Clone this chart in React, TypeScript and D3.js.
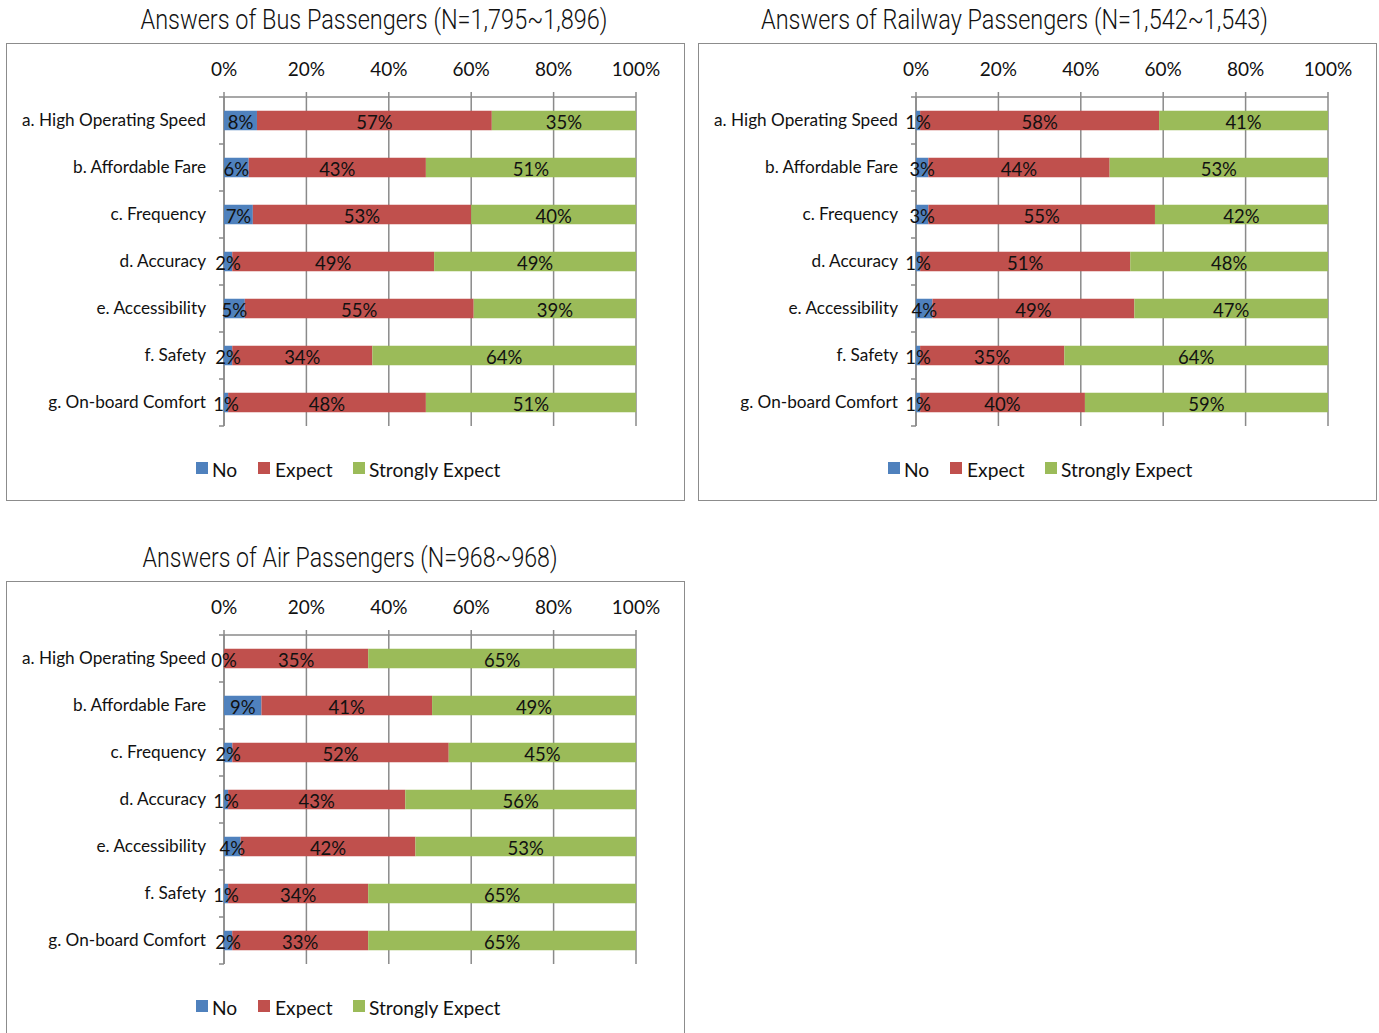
import React from "react";
import * as d3 from "d3";

const categories = [
  "a. High Operating Speed",
  "b. Affordable Fare",
  "c. Frequency",
  "d. Accuracy",
  "e. Accessibility",
  "f. Safety",
  "g. On-board Comfort",
];
const seriesNames = ["No", "Expect", "Strongly Expect"];
const seriesColors = ["#4F81BD", "#C0504D", "#9BBB59"];
const ticks = [0, 20, 40, 60, 80, 100];

const busNo = [8, 6, 7, 2, 5, 2, 1];
const busExpect = [57, 43, 53, 49, 55, 34, 48];
const busStrong = [35, 51, 40, 49, 39, 64, 51];

const railNo = [1, 3, 3, 1, 4, 1, 1];
const railExpect = [58, 44, 55, 51, 49, 35, 40];
const railStrong = [41, 53, 42, 48, 47, 64, 59];

const airNo = [0, 9, 2, 1, 4, 1, 2];
const airExpect = [35, 41, 52, 43, 42, 34, 33];
const airStrong = [65, 49, 45, 56, 53, 65, 65];

const LABEL_FONT = "Lato, 'Open Sans', sans-serif";
const TITLE_FONT = "Roboto, 'Liberation Sans', sans-serif";

type PanelProps = {
  title: string;
  titleCx: number;
  titleW: number;
  no: number[];
  expect: number[];
  strong: number[];
  fx: number;
  fy: number;
  fw: number;
  fh: number;
};

function Panel({ title, titleCx, titleW, no, expect, strong, fx, fy, fw, fh }: PanelProps) {
  const plotLeft = fx + 218;
  const plotRight = fx + 630;
  const axisY = fy + 54;
  const plotBottom = axisY + 329;
  const x = d3.scaleLinear().domain([0, 100]).range([plotLeft, plotRight]);
  const y = d3
    .scaleBand<string>()
    .domain(categories)
    .range([axisY, plotBottom])
    .paddingInner(0.585)
    .paddingOuter(0.2925);
  const rows = categories.map((c, i) => {
    const vals = [no[i], expect[i], strong[i]];
    const total = d3.sum(vals);
    const stack: { v: number; x0: number; x1: number; k: number }[] = [];
    let acc = 0;
    vals.forEach((v, k) => {
      const p = (v / total) * 100;
      stack.push({ v, x0: acc, x1: acc + p, k });
      acc += p;
    });
    return { c, stack };
  });
  const step = y.step();
  const boundaries = d3.range(categories.length + 1).map((i) => axisY + i * step);
  const legendY = fy + 425;
  const legendItems = [
    { sx: fx + 190, tx: fx + 206 },
    { sx: fx + 252, tx: fx + 269 },
    { sx: fx + 347, tx: fx + 363 },
  ];
  return (
    <g>
      <rect x={fx + 0.5} y={fy + 0.5} width={fw} height={fh} fill="#fff" stroke="#8c8c8c" strokeWidth={1} />
      <text
        x={titleCx}
        y={fy - 23}
        textAnchor="middle"
        dominantBaseline="central"
        fontFamily={TITLE_FONT}
        fontWeight={300}
        fontSize={27}
        textLength={titleW}
        lengthAdjust="spacingAndGlyphs"
        fill="#111"
      >
        {title}
      </text>
      {ticks.map((t) => (
        <line key={"g" + t} x1={x(t)} x2={x(t)} y1={axisY - 5} y2={plotBottom} stroke="#8a8a8a" strokeWidth={1.5} />
      ))}
      <line x1={plotLeft} x2={plotRight} y1={axisY} y2={axisY} stroke="#8a8a8a" strokeWidth={1.5} />
      {ticks.map((t) => (
        <text
          key={"t" + t}
          x={x(t)}
          y={fy + 25}
          textAnchor="middle"
          dominantBaseline="central"
          fontFamily={LABEL_FONT}
          fontSize={19}
          fill="#111"
        >
          {t + "%"}
        </text>
      ))}
      <line x1={plotLeft} x2={plotLeft} y1={axisY} y2={plotBottom} stroke="#8a8a8a" strokeWidth={1.5} />
      {boundaries.map((b, i) => (
        <line key={"b" + i} x1={plotLeft - 5} x2={plotLeft} y1={b} y2={b} stroke="#8a8a8a" strokeWidth={1.5} />
      ))}
      {rows.map((r) => {
        const yy = y(r.c)!;
        const bh = y.bandwidth();
        return (
          <g key={r.c}>
            <text
              x={plotLeft - 18}
              y={yy + bh / 2 - 1}
              textAnchor="end"
              dominantBaseline="central"
              fontFamily={LABEL_FONT}
              fontSize={17.2}
              fill="#111"
            >
              {r.c}
            </text>
            {r.stack.map((s) => (
              <rect
                key={s.k}
                x={x(s.x0)}
                y={yy}
                width={Math.max(0, x(s.x1) - x(s.x0))}
                height={bh}
                fill={seriesColors[s.k]}
              />
            ))}
            {r.stack.map((s) => (
              <text
                key={"l" + s.k}
                x={(x(s.x0) + x(s.x1)) / 2}
                y={yy + bh / 2 + 1}
                textAnchor="middle"
                dominantBaseline="central"
                fontFamily={LABEL_FONT}
                fontSize={18.5}
                fill="#111"
              >
                {s.v + "%"}
              </text>
            ))}
          </g>
        );
      })}
      {legendItems.map((it, k) => (
        <g key={"lg" + k}>
          <rect x={it.sx} y={legendY - 6} width={12} height={12} fill={seriesColors[k]} />
          <text
            x={it.tx}
            y={legendY + 1}
            dominantBaseline="central"
            fontFamily={LABEL_FONT}
            fontSize={19.2}
            fill="#111"
          >
            {seriesNames[k]}
          </text>
        </g>
      ))}
    </g>
  );
}

export default function App() {
  return (
    <svg
      width={1379}
      height={1033}
      style={{ position: "absolute", left: 0, top: 0, background: "#fff" }}
    >
      <Panel
        title="Answers of Bus Passengers (N=1,795~1,896)"
        titleCx={374}
        titleW={467}
        no={busNo}
        expect={busExpect}
        strong={busStrong}
        fx={6}
        fy={43}
        fw={678}
        fh={457}
      />
      <Panel
        title="Answers of Railway Passengers (N=1,542~1,543)"
        titleCx={1014.5}
        titleW={507}
        no={railNo}
        expect={railExpect}
        strong={railStrong}
        fx={698}
        fy={43}
        fw={678}
        fh={457}
      />
      <Panel
        title="Answers of Air Passengers (N=968~968)"
        titleCx={350}
        titleW={415}
        no={airNo}
        expect={airExpect}
        strong={airStrong}
        fx={6}
        fy={581}
        fw={678}
        fh={500}
      />
    </svg>
  );
}
